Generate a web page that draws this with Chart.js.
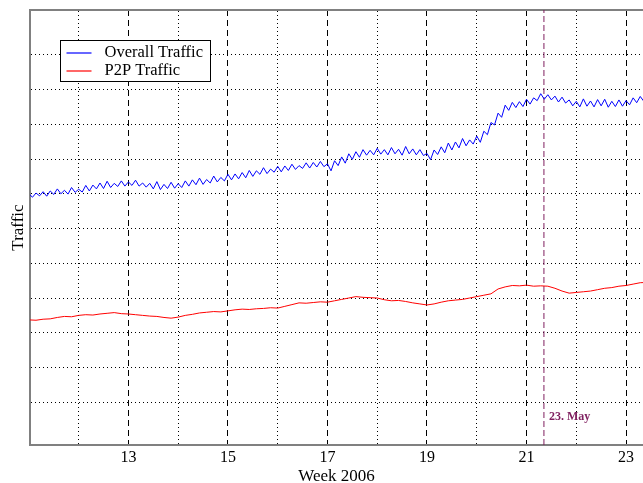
<!DOCTYPE html>
<html>
<head>
<meta charset="utf-8">
<script src="https://cdn.jsdelivr.net/npm/chart.js@4"></script>
<style>
  html, body { margin: 0; padding: 0; background: #fff; }
</style>
</head>
<body>
<canvas id="c" width="643" height="483"></canvas>
<script>
// ---- data ----
const seriesNames = ["Overall Traffic", "P2P Traffic"];
const startWeek = 11;            // first sample, week 2006
const overallStep = 1 / 14;      // two samples per day
const p2pStep = 1 / 7;           // one sample per day
const weekTicks = [12, 13, 14, 15, 16, 17, 18, 19, 20, 21, 22, 23];
const weekLabels = [13, 15, 17, 19, 21, 23];
const markerWeek = 21.35;
const markerLabel = "23. May";

const overallTraffic = [
  7.00, 6.90, 7.02, 6.94, 7.06, 6.93, 7.08, 6.98, 7.14, 7.00, 7.10, 6.99, 7.18, 7.04,
  7.13, 7.05, 7.24, 7.08, 7.25, 7.14, 7.31, 7.15, 7.36, 7.18, 7.30, 7.21, 7.37, 7.22,
  7.34, 7.24, 7.39, 7.22, 7.31, 7.19, 7.30, 7.14, 7.35, 7.12, 7.27, 7.15, 7.33, 7.16,
  7.29, 7.18, 7.37, 7.22, 7.40, 7.26, 7.45, 7.27, 7.41, 7.31, 7.51, 7.34, 7.47, 7.37,
  7.56, 7.40, 7.57, 7.43, 7.61, 7.46, 7.67, 7.50, 7.66, 7.56, 7.75, 7.58, 7.71, 7.62,
  7.79, 7.63, 7.80, 7.67, 7.85, 7.70, 7.81, 7.73, 7.89, 7.74, 7.90, 7.77, 7.93, 7.78,
  7.86, 7.66, 7.95, 7.81, 8.06, 7.88, 8.15, 7.99, 8.21, 8.05, 8.27, 8.11, 8.25, 8.12,
  8.31, 8.14, 8.27, 8.12, 8.33, 8.15, 8.28, 8.11, 8.36, 8.15, 8.29, 8.12, 8.27, 8.10,
  8.16, 7.98, 8.26, 8.13, 8.35, 8.18, 8.46, 8.26, 8.49, 8.32, 8.59, 8.38, 8.55, 8.43,
  8.66, 8.48, 8.80, 8.70, 9.05, 8.98, 9.32, 9.20, 9.55, 9.40, 9.63, 9.48, 9.65, 9.51,
  9.72, 9.58, 9.76, 9.68, 9.88, 9.72, 9.85, 9.70, 9.81, 9.64, 9.78, 9.61, 9.70, 9.53,
  9.66, 9.50, 9.73, 9.52, 9.67, 9.50, 9.71, 9.53, 9.72, 9.49, 9.66, 9.51, 9.70, 9.52,
  9.68, 9.56, 9.76, 9.62, 9.80, 9.66, 9.84, 9.70
];

const p2pTraffic = [
  3.37, 3.36, 3.39, 3.40, 3.44, 3.47, 3.46, 3.50, 3.52, 3.51, 3.54, 3.56, 3.58, 3.55,
  3.54, 3.52, 3.50, 3.48, 3.47, 3.44, 3.42, 3.45, 3.50, 3.53, 3.57, 3.59, 3.61, 3.60,
  3.63, 3.66, 3.68, 3.67, 3.69, 3.70, 3.72, 3.71, 3.76, 3.81, 3.86, 3.85, 3.87, 3.89,
  3.88, 3.92, 3.96, 4.00, 4.04, 4.02, 4.01, 4.00, 3.95, 3.92, 3.93, 3.90, 3.86, 3.83,
  3.80, 3.83, 3.88, 3.92, 3.94, 3.96, 4.00, 4.04, 4.08, 4.12, 4.26, 4.32, 4.36, 4.35,
  4.37, 4.34, 4.35, 4.34, 4.28, 4.20, 4.14, 4.16, 4.18, 4.20, 4.24, 4.28, 4.30, 4.34,
  4.36, 4.40, 4.44, 4.45
];

// ---- axis ranges ----
const xMin = 11.022, xMax = 23.341;
const yMin = -0.23, yMax = 12.288;

const toPoints = (vals, step) => vals.map((v, i) => ({ x: startWeek + i * step, y: v }));

const serif = '"Liberation Serif", "Times New Roman", serif';
const purple = '#7f1f5f';
const isInt = v => Math.abs(v - Math.round(v)) < 1e-6;
const lineColors = ['#0000ff', '#ff0000'];

const annotations = {
  id: 'annotations',
  afterDatasetsDraw(chart) {
    const { ctx, scales, chartArea } = chart;
    // marker label
    const x = scales.x.getPixelForValue(markerWeek);
    ctx.save();
    ctx.font = 'bold 12px ' + serif;
    ctx.fillStyle = purple;
    ctx.textBaseline = 'middle';
    ctx.textAlign = 'left';
    ctx.fillText(markerLabel, x + 5, chartArea.bottom - 28);
    // boxed legend
    const bx = chartArea.left + 30.5, by = chartArea.top + 30.5, bw = 150, bh = 41;
    ctx.fillStyle = '#fff';
    ctx.fillRect(bx, by, bw, bh);
    ctx.strokeStyle = '#000';
    ctx.lineWidth = 1;
    ctx.setLineDash([]);
    ctx.strokeRect(bx, by, bw, bh);
    ctx.font = '16.5px ' + serif;
    ctx.fillStyle = '#000';
    seriesNames.forEach((name, i) => {
      const cy = by + 12.5 + i * 17.5;
      ctx.strokeStyle = lineColors[i];
      ctx.lineWidth = 1.2;
      ctx.beginPath();
      ctx.moveTo(bx + 6, Math.round(cy));
      ctx.lineTo(bx + 31, Math.round(cy));
      ctx.stroke();
      ctx.fillText(name, bx + 44, cy);
    });
    ctx.restore();
  }
};

new Chart(document.getElementById('c'), {
  type: 'line',
  data: {
    datasets: [
      { label: seriesNames[0], data: toPoints(overallTraffic, overallStep), borderColor: lineColors[0],
        borderWidth: 1, pointRadius: 0, tension: 0, fill: false },
      { label: seriesNames[1], data: toPoints(p2pTraffic, p2pStep), borderColor: lineColors[1],
        borderWidth: 1, pointRadius: 0, tension: 0, fill: false },
      { label: markerLabel, data: [{ x: markerWeek, y: yMin }, { x: markerWeek, y: yMax }],
        borderColor: purple, borderWidth: 1, borderDash: [6, 3], pointRadius: 0, fill: false }
    ]
  },
  options: {
    responsive: false,
    animation: false,
    layout: { padding: 0 },
    plugins: { legend: { display: false }, tooltip: { enabled: false } },
    scales: {
      x: {
        type: 'linear', position: 'bottom', min: xMin, max: xMax,
        afterBuildTicks: a => { a.ticks = weekLabels.map(v => ({ value: v })); },
        afterFit: a => { a.height = 38; },
        grid: { color: '#000', lineWidth: 1, drawTicks: false },
        border: { display: true, color: '#808080', width: 2, dash: [6, 4] },
        ticks: { autoSkip: false, maxRotation: 0, padding: 3, color: '#000',
                 font: { family: serif, size: 16 }, callback: v => String(v) },
        title: { display: true, text: 'Week 2006', color: '#000', padding: 0,
                 font: { family: serif, size: 17, lineHeight: 0.8 } }
      },
      x2: {
        type: 'linear', position: 'top', min: xMin, max: xMax,
        afterBuildTicks: a => { a.ticks = weekTicks.filter(v => v % 2 === 0).map(v => ({ value: v })); },
        afterFit: a => { a.height = 10; },
        grid: { color: '#000', lineWidth: 1, drawTicks: false },
        border: { display: true, color: '#808080', width: 2, dash: [1, 3] },
        ticks: { display: false }
      },
      y: {
        type: 'linear', position: 'left', min: yMin, max: yMax,
        ticks: { display: false, stepSize: 1 },
        afterBuildTicks: a => { a.ticks = a.ticks.filter(t => isInt(t.value)); },
        afterFit: a => { a.width = 30; },
        grid: { color: '#000', lineWidth: 1, drawTicks: false },
        border: { display: true, color: '#808080', width: 2, dash: [1, 3] },
        title: { display: true, text: 'Traffic', color: '#000', padding: { top: 8, bottom: 0 },
                 font: { family: serif, size: 17 } }
      }
    }
  },
  plugins: [annotations]
});
</script>
</body>
</html>
